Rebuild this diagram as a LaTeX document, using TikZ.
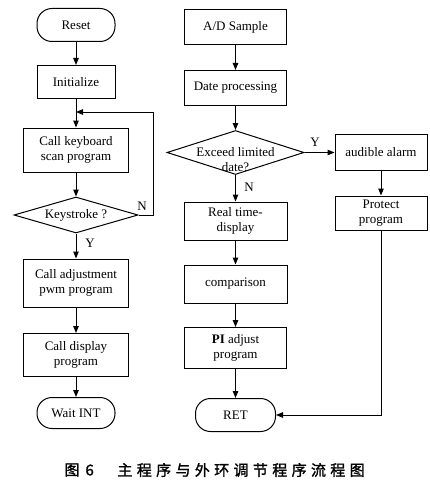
\documentclass[tikz,border=0pt]{standalone}
\usepackage{fontspec}
\setmainfont{Liberation Serif}
\newfontfamily\cjk[FakeBold=1.5]{Noto Sans CJK SC}
\usetikzlibrary{shapes.geometric,arrows.meta}
\begin{document}
\begin{tikzpicture}[x=1pt,y=-1pt, line width=1pt,
  box/.style={draw, rectangle, inner sep=0pt, align=center, font=\fontsize{13}{15}\selectfont},
  term/.style={box, rounded corners=15pt},
  dec/.style={draw, diamond, inner sep=0pt},
  arr/.style={-{Triangle[length=7pt,width=5.5pt]}},
  lab/.style={font=\fontsize{13}{15}\selectfont, inner sep=0pt},
  decl/.style={align=center, font=\fontsize{13}{15}\selectfont}]
\useasboundingbox[fill=white] (0,0) rectangle (430,487);
% left column
\node[term, minimum width=78pt, minimum height=33pt] (reset) at (76,25) {Reset};
\node[box, minimum width=78pt, minimum height=33pt] (init) at (76,82) {Initialize};
\node[box, minimum width=105pt, minimum height=44pt] (kbd) at (76,150) {Call keyboard\\scan program};
\node[dec, minimum width=124pt, minimum height=36pt, label={[decl]center:Keystroke ?}] (key) at (76,215) {};
\node[box, minimum width=105pt, minimum height=48pt] (adj) at (76,283) {Call adjustment\\pwm program};
\node[box, minimum width=105pt, minimum height=43pt] (disp) at (76,355) {Call display\\program};
\node[term, minimum width=78pt, minimum height=31pt] (wait) at (76,413) {Wait INT};
% right column
\node[box, minimum width=102pt, minimum height=35pt] (ad) at (235.5,27) {A/D Sample};
\node[box, minimum width=102pt, minimum height=35pt] (dp) at (235.5,88) {Date processing};
\node[dec, minimum width=137pt, minimum height=44pt, label={[decl, yshift=-7pt]center:Exceed limited\\date?}] (exc) at (235.5,152.5) {};
\node[box, minimum width=92pt, minimum height=36pt] (alarm) at (381,152.5) {audible alarm};
\node[box, minimum width=92pt, minimum height=34pt] (prot) at (381,213) {Protect\\program};
\node[box, minimum width=103pt, minimum height=38pt] (rt) at (235.5,221) {Real time-\\display};
\node[box, minimum width=103pt, minimum height=38pt] (cmp) at (235.5,284) {comparison};
\node[box, minimum width=102pt, minimum height=41pt] (pi) at (235.5,348) {\textbf{PI} adjust\\program};
\node[term, minimum width=80pt, minimum height=33pt] (ret) at (235.5,415) {RET};
% connectors left
\coordinate (join) at (76,112);
\coordinate (loopc) at (153,112);
\draw[arr] (reset) -- (init);
\draw[arr] (init) -- (kbd);
\draw[arr] (kbd) -- (key);
\draw[arr] (key.east) -| (loopc) -- (join);
\draw[arr] (key) -- (adj);
\draw[arr] (adj) -- (disp);
\draw[arr] (disp) -- (wait);
\node[lab] (nl) at (142,206) {N};
\node[lab] (yl) at (90,243) {Y};
% connectors right
\draw[arr] (ad) -- (dp);
\draw[arr] (dp) -- (exc);
\draw[arr] (exc.east) -- (alarm.west);
\draw[arr] (alarm) -- (prot);
\draw[arr] (exc) -- (rt);
\draw[arr] (rt) -- (cmp);
\draw[arr] (cmp) -- (pi);
\draw[arr] (pi) -- (ret);
\draw[arr] (prot.south) |- (ret.east);
\node[lab] (yr) at (315,142) {Y};
\node[lab] (nr) at (249,187) {N};
% caption
\node[anchor=west, inner sep=0pt, font=\cjk\fontsize{15}{15}\selectfont] (fig) at (64,470) {图\hspace{6pt}6};
\node[anchor=west, inner sep=0pt, font=\cjk\fontsize{15}{15}\selectfont\addfontfeature{LetterSpace=29}] (cap) at (117,470) {主程序与外环调节程序流程图};
\end{tikzpicture}
\end{document}
